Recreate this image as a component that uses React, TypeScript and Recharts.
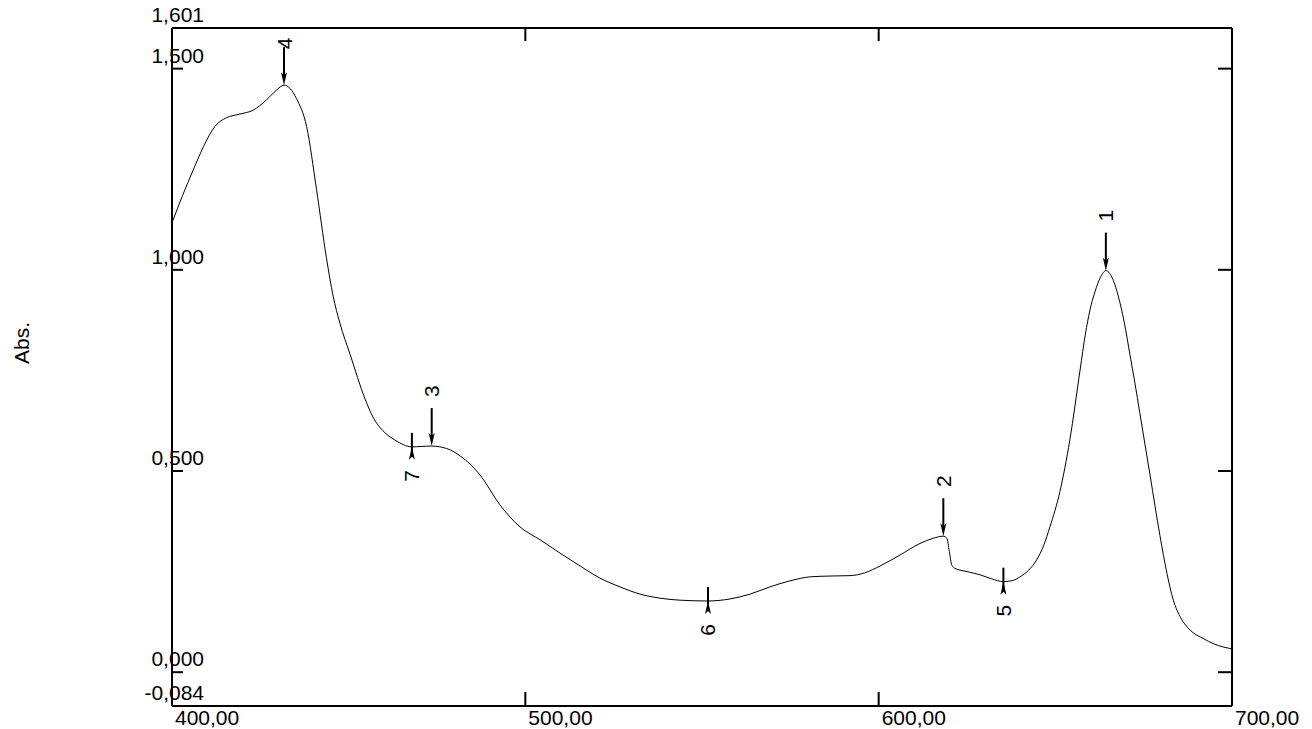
import { LineChart, Line, XAxis, YAxis, ReferenceDot } from "recharts";

// spectrum (nm, Abs)
const WAVELENGTH = [
  400.0, 403.0, 406.0, 408.9, 412.2, 415.4, 419.2, 423.0, 426.7, 429.5, 431.7,
  433.5, 435.2, 438.1, 440.9, 443.7, 445.6, 447.5, 450.4, 454.6, 457.0, 459.7,
  463.1, 467.9, 470.5, 473.5, 477.7, 482.4, 487.2, 492.8, 498.5, 504.2, 509.8,
  515.5, 521.1, 526.8, 532.5, 538.1, 543.8, 551.7, 557.9, 563.6, 569.2, 574.9,
  580.6, 586.2, 591.9, 596.1, 600.4, 606.0, 611.7, 615.5, 618.3, 619.3, 620.0,
  620.7, 621.6, 625.0, 628.7, 632.0, 635.3, 638.0, 640.0, 642.5, 644.7, 646.7,
  648.5, 651.3, 654.1, 657.0, 658.5, 659.8, 661.2, 662.8, 664.3, 666.0, 667.8,
  669.5, 671.1, 672.5, 673.9, 676.8, 679.6, 681.6, 683.4, 685.5, 688.1, 691.8,
  695.0, 699.4, 700.0,
];
const ABSORBANCE = [
  1.117, 1.185, 1.248, 1.306, 1.357, 1.378, 1.387, 1.397, 1.422, 1.446, 1.459,
  1.45, 1.426, 1.356, 1.2, 1.03, 0.935, 0.868, 0.79, 0.68, 0.632, 0.6,
  0.577, 0.56, 0.561, 0.562, 0.556, 0.532, 0.49, 0.416, 0.361, 0.329, 0.296,
  0.264, 0.234, 0.212, 0.194, 0.184, 0.179, 0.177, 0.182, 0.194, 0.212, 0.227,
  0.237, 0.239, 0.24, 0.247, 0.264, 0.291, 0.32, 0.333, 0.338, 0.333, 0.3,
  0.266, 0.258, 0.25, 0.242, 0.232, 0.225, 0.228, 0.237, 0.254, 0.279, 0.315,
  0.362, 0.449, 0.577, 0.751, 0.84, 0.9, 0.945, 0.982, 0.998, 0.982, 0.935,
  0.87, 0.79, 0.72, 0.645, 0.49, 0.34, 0.245, 0.179, 0.135, 0.105, 0.084,
  0.07, 0.059, 0.058,
];

const X_TICKS = [400, 500, 600, 700];
const X_TOP_TICKS = [500, 600];
const Y_TICKS = [-0.084, 0, 0.5, 1.0, 1.5, 1.601];
const Y_RIGHT_TICKS = [0, 0.5, 1.0, 1.5];

// peak pick table
const PEAK_NO = ["1", "2", "3", "4", "5", "6", "7"];
const PEAK_NM = [664.3, 618.3, 473.5, 431.7, 635.3, 551.7, 467.9];
const PEAK_ABS = [0.998, 0.338, 0.562, 1.459, 0.225, 0.177, 0.56];
const PEAK_KIND = ["max", "max", "max", "max", "min", "min", "min"];

const FONT = "'Liberation Sans', Arial, sans-serif";
const FS = 21;
const PLOT_TOP = 28;

const data = WAVELENGTH.map((nm, i) => ({ nm, abs: ABSORBANCE[i] }));

const fmt = (v: number, d: number) => v.toFixed(d).replace(".", ",");

function BottomTick(props: any) {
  const { x, y, payload } = props;
  return (
    <g>
      <line x1={x} y1={y} x2={x} y2={y - 14} stroke="#000" strokeWidth={2} />
      <text x={x + 3} y={y + 19} fontSize={FS} fontFamily={FONT} fill="#000">
        {fmt(payload.value, 2)}
      </text>
    </g>
  );
}

function TopTick(props: any) {
  const { x, y } = props;
  return <line x1={x} y1={y} x2={x} y2={y + 13} stroke="#000" strokeWidth={2} />;
}

function LeftTick(props: any) {
  const { x, y, payload } = props;
  return (
    <g>
      <line x1={x} y1={y} x2={x + 11} y2={y} stroke="#000" strokeWidth={2} />
      <text
        x={x + 32}
        y={y - 6}
        textAnchor="end"
        fontSize={FS}
        fontFamily={FONT}
        fill="#000"
      >
        {fmt(payload.value, 3)}
      </text>
    </g>
  );
}

function RightTick(props: any) {
  const { x, y } = props;
  return <line x1={x} y1={y} x2={x - 14} y2={y} stroke="#000" strokeWidth={2} />;
}

function AbsLabel(props: any) {
  const { x, y, width, height } = props.viewBox;
  const tx = x + width - 151;
  const ty = y + height / 2 - 24;
  return (
    <text
      x={tx}
      y={ty}
      transform={`rotate(-90 ${tx} ${ty})`}
      textAnchor="middle"
      dominantBaseline="central"
      fontSize={FS}
      fontFamily={FONT}
      fill="#000"
    >
      Abs.
    </text>
  );
}

function PeakMark({ cx, cy, kind, no }: any) {
  const up = kind === "max";
  const ly = up ? Math.max(cy - 55, PLOT_TOP + 15.5) : cy + 29;
  const s = up ? -1 : 1;
  return (
    <g>
      <line
        x1={cx}
        y1={up ? cy - 38 : cy - 14}
        x2={cx}
        y2={cy + s * 9}
        stroke="#000"
        strokeWidth={2}
      />
      <polygon
        points={`${cx},${cy} ${cx - 3},${cy + s * 13} ${cx},${cy + s * 10} ${cx + 3},${cy + s * 13}`}
        fill="#000"
      />
      <text
        x={cx}
        y={ly}
        transform={`rotate(-90 ${cx} ${ly})`}
        textAnchor="middle"
        dominantBaseline="central"
        fontSize={FS}
        fontFamily={FONT}
        fill="#000"
      >
        {no}
      </text>
    </g>
  );
}

export default function App() {
  const axisLine = { stroke: "#000", strokeWidth: 2 };
  return (
    <div style={{ position: "absolute", left: 0, top: 0, width: 1312, height: 729, background: "#fff" }}>
      <LineChart
        width={1312}
        height={729}
        data={data}
        margin={{ top: 0, right: 0, bottom: 0, left: 0 }}
      >
        <XAxis
          dataKey="nm"
          type="number"
          domain={[400, 700]}
          ticks={X_TICKS}
          interval={0}
          height={23}
          tickSize={0}
          tickMargin={0}
          tickLine={false}
          axisLine={axisLine}
          tick={<BottomTick />}
          allowDataOverflow
        />
        <XAxis
          xAxisId="top"
          orientation="top"
          dataKey="nm"
          type="number"
          domain={[400, 700]}
          ticks={X_TOP_TICKS}
          interval={0}
          height={PLOT_TOP}
          tickSize={0}
          tickMargin={0}
          tickLine={false}
          axisLine={axisLine}
          tick={<TopTick />}
          allowDataOverflow
        />
        <YAxis
          type="number"
          domain={[-0.084, 1.601]}
          ticks={Y_TICKS}
          interval={0}
          width={172}
          tickSize={0}
          tickMargin={0}
          tickLine={false}
          axisLine={axisLine}
          tick={<LeftTick />}
          label={AbsLabel}
          allowDataOverflow
        />
        <YAxis
          yAxisId="right"
          orientation="right"
          type="number"
          domain={[-0.084, 1.601]}
          ticks={Y_RIGHT_TICKS}
          interval={0}
          width={80}
          tickSize={0}
          tickMargin={0}
          tickLine={false}
          axisLine={axisLine}
          tick={<RightTick />}
          allowDataOverflow
        />
        <Line
          type="monotone"
          dataKey="abs"
          stroke="#000"
          strokeWidth={1}
          dot={false}
          isAnimationActive={false}
        />
        {PEAK_NO.map((no, i) => (
          <ReferenceDot
            key={no}
            x={PEAK_NM[i]}
            y={PEAK_ABS[i]}
            r={0}
            ifOverflow="visible"
            shape={(p: any) => (
              <PeakMark cx={p.cx} cy={p.cy} kind={PEAK_KIND[i]} no={no} />
            )}
          />
        ))}
      </LineChart>
    </div>
  );
}
